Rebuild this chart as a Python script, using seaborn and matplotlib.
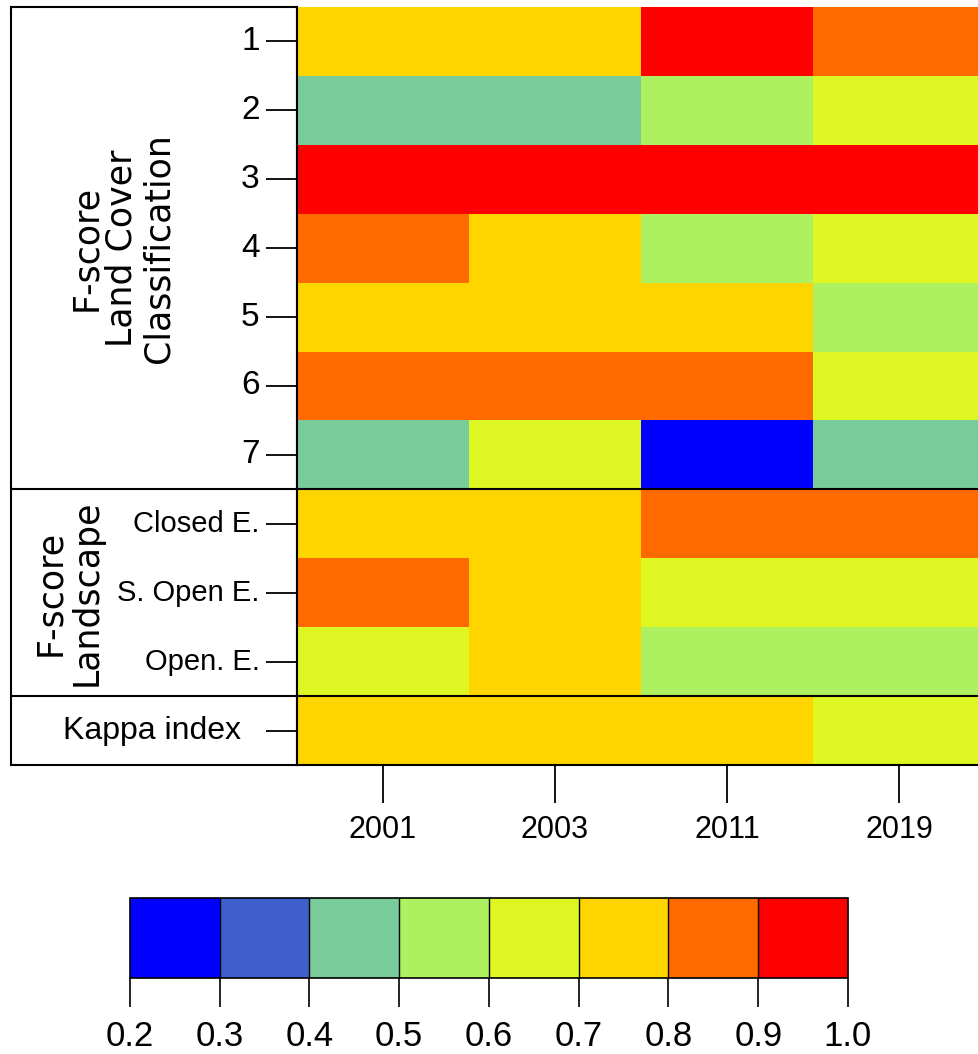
import numpy as np
import pandas as pd
import matplotlib
matplotlib.use("Agg")
import matplotlib.pyplot as plt
from matplotlib.colors import ListedColormap, BoundaryNorm
import seaborn as sns

years = ['2001', '2003', '2011', '2019']
row_labels = ['1', '2', '3', '4', '5', '6', '7',
              'Closed E.', 'S. Open E.', 'Open. E.', 'Kappa index']

# values (bin midpoints)
f2001 = [0.75, 0.45, 0.95, 0.85, 0.75, 0.85, 0.45, 0.75, 0.85, 0.65, 0.75]
f2003 = [0.75, 0.45, 0.95, 0.75, 0.75, 0.85, 0.65, 0.75, 0.75, 0.75, 0.75]
f2011 = [0.95, 0.55, 0.95, 0.55, 0.75, 0.85, 0.25, 0.85, 0.65, 0.55, 0.75]
f2019 = [0.85, 0.65, 0.95, 0.65, 0.55, 0.65, 0.45, 0.85, 0.65, 0.55, 0.65]

bounds = [0.2, 0.3, 0.4, 0.5, 0.6, 0.7, 0.8, 0.9, 1.0]
colors = ['#0000ff', '#3f60cc', '#78cc9a', '#adf160', '#def722',
          '#ffd500', '#ff6a00', '#ff0000']

df = pd.DataFrame({'2001': f2001, '2003': f2003, '2011': f2011, '2019': f2019},
                  index=row_labels)

sns.set_style("white")
plt.rcParams['font.family'] = ['Liberation Sans Narrow', 'Liberation Sans', 'DejaVu Sans']
plt.rcParams['text.color'] = 'k'
plt.rcParams['xtick.color'] = 'k'
plt.rcParams['ytick.color'] = 'k'
plt.rcParams['xtick.labelcolor'] = 'k'
plt.rcParams['ytick.labelcolor'] = 'k'

W, H = 979, 1054


def px(x0, y0, x1, y1):
    return [x0 / W, 1 - y1 / H, (x1 - x0) / W, (y1 - y0) / H]


fig = plt.figure(figsize=(W / 100, H / 100), dpi=100)
ax_box = fig.add_axes(px(11, 7, 297, 765))
ax = fig.add_axes(px(297, 7, 985, 765))
cax = fig.add_axes(px(130, 898, 848, 978))

cmap = ListedColormap(colors)
norm = BoundaryNorm(bounds, cmap.N)

sns.heatmap(df, ax=ax, cmap=cmap, norm=norm, cbar_ax=cax,
            cbar_kws={'orientation': 'horizontal', 'ticks': bounds, 'drawedges': True})

# heatmap axes
ax.set_xlabel('')
ax.set_ylabel('')
ax.set_yticklabels(row_labels[:-1] + [''], rotation=0)
ax.set_xticklabels(years, rotation=0)
ax.tick_params(axis='y', left=True, length=22, width=1.3, pad=5, labelsize=21, color='k')
ax.tick_params(axis='x', bottom=True, length=27, width=1.3, pad=9, labelsize=22, color='k')
for lab in ax.get_yticklabels():
    if lab.get_text().isdigit():
        lab.set_fontsize(24)
for y in [7, 10, 11]:
    ax.axhline(y, color='k', lw=1.5, clip_on=False)
ax.axvline(0, color='k', lw=1.5, clip_on=False)

# left label box
ax_box.set_xlim(0, 1)
ax_box.set_ylim(11, 0)
ax_box.set_xticks([])
ax_box.set_yticks([])
ax_box.set_facecolor('none')
for s in ax_box.spines.values():
    s.set_visible(True)
    s.set_color('k')
    s.set_linewidth(1.5)
for y in [7, 10]:
    ax_box.axhline(y, color='k', lw=1.5)
ax_box.text(0.388, 3.5, 'F-score\nLand Cover\nClassification', rotation=90,
            ha='center', va='center', multialignment='center',
            fontsize=25, linespacing=1.08, family='DejaVu Sans')
ax_box.text(0.2, 8.5, 'F-score\nLandscape', rotation=90,
            ha='center', va='center', multialignment='center',
            fontsize=25, linespacing=1.08, family='DejaVu Sans')
ax_box.text(0.493, 10.5, 'Kappa index', ha='center', va='center',
            fontsize=23, family=['Liberation Sans', 'DejaVu Sans'])

# colorbar
cb = ax.collections[0].colorbar
cb.outline.set_linewidth(1.2)
cb.outline.set_edgecolor('k')
cb.dividers.set_color('k')
cb.dividers.set_linewidth(1.0)
cb.set_ticks(bounds, labels=[f'{b:.1f}' for b in bounds])
cax.tick_params(length=21, width=1.2, pad=9, labelsize=25, color='k')

fig.savefig('out.png', dpi=100)
